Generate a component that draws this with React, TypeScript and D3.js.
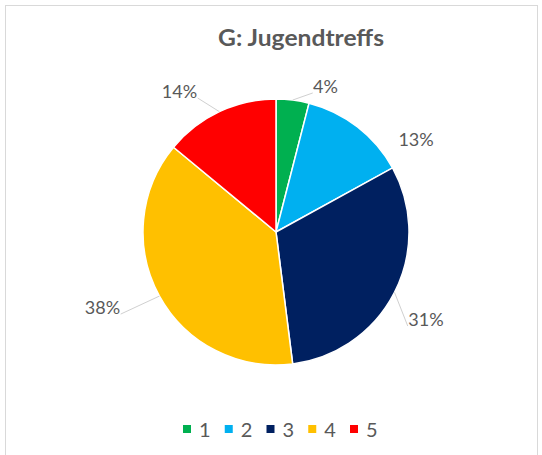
import React from "react";
import * as d3 from "d3";

const categories = ["1", "2", "3", "4", "5"];
const values = [4, 13, 31, 38, 14];
const colors = ["#00B050", "#00B0F0", "#002060", "#FFC000", "#FF0000"];
const title = "G: Jugendtreffs";

// layout constants (styling, not data)
const W = 542;
const H = 455;
const CX = 276;
const CY = 232;
const R = 133;
const LABEL_R = 160;
const labelNudge: [number, number][] = [
  [29.5, 13.7],
  [42, 34],
  [7.4, 15.4],
  [-33.3, -1],
  [-28.4, 4.8],
];
const showLeader = [true, false, true, true, true];
const FONT = "Lato, 'Open Sans', sans-serif";
const TEXT = "#595959";
const LABEL_FS = 18;

export default function App() {
  const pie = d3
    .pie<number>()
    .sort(null)
    .value((d) => d)
    .startAngle(0)
    .endAngle(2 * Math.PI);
  const arcs = pie(values);
  const arc = d3.arc<d3.PieArcDatum<number>>().innerRadius(0).outerRadius(R);
  const edgeArc = d3.arc<d3.PieArcDatum<number>>().innerRadius(R).outerRadius(R);
  const labelArc = d3
    .arc<d3.PieArcDatum<number>>()
    .innerRadius(LABEL_R)
    .outerRadius(LABEL_R);

  const total = d3.sum(values);
  const fmt = (v: number) => `${Math.round((v / total) * 100)}%`;

  const legendX = d3.scalePoint<string>().domain(categories).range([183, 350]);

  return (
    <svg
      width={W}
      height={H}
      style={{ position: "absolute", left: 0, top: 0, background: "#fff" }}
      fontFamily={FONT}
    >
      <rect x={0} y={0} width={W} height={H} fill="#fff" />
      <rect
        x={5.5}
        y={5.5}
        width={532}
        height={470}
        fill="none"
        stroke="#d9d9d9"
        strokeWidth={1}
      />
      <text
        x={301}
        y={46}
        textAnchor="middle"
        fontSize={23}
        fontWeight="bold"
        fill={TEXT}
        textLength={166}
        lengthAdjust="spacingAndGlyphs"
      >
        {title}
      </text>
      <g transform={`translate(${CX},${CY})`}>
        {arcs.map((a, i) => (
          <path
            key={i}
            d={arc(a) as string}
            fill={colors[i]}
            stroke="#fff"
            strokeWidth={1.5}
          />
        ))}
        {arcs.map((a, i) => {
          const [lx, ly] = labelArc.centroid(a);
          const x = lx + labelNudge[i][0];
          const y = ly + labelNudge[i][1];
          const label = fmt(a.data);
          const approxW = label.length * LABEL_FS * 0.6;
          const [ex, ey] = edgeArc.centroid(a);
          const right = x > ex;
          const endX = right ? x - approxW / 2 - 2 : x + approxW / 2 + 2;
          const endY = y + 6;
          return (
            <g key={i}>
              {showLeader[i] && (
                <line
                  x1={ex}
                  y1={ey}
                  x2={endX}
                  y2={endY}
                  stroke="#d0d0d0"
                  strokeWidth={1}
                />
              )}
              <text
                x={x}
                y={y}
                dy="0.35em"
                textAnchor="middle"
                fontSize={LABEL_FS}
                fill={TEXT}
              >
                {label}
              </text>
            </g>
          );
        })}
      </g>
      <g>
        {categories.map((c, i) => {
          const x = legendX(c) as number;
          return (
            <g key={c}>
              <rect x={x} y={425} width={8} height={8} fill={colors[i]} />
              <text x={x + 16} y={437} fontSize={20} fill={TEXT}>
                {c}
              </text>
            </g>
          );
        })}
      </g>
    </svg>
  );
}
